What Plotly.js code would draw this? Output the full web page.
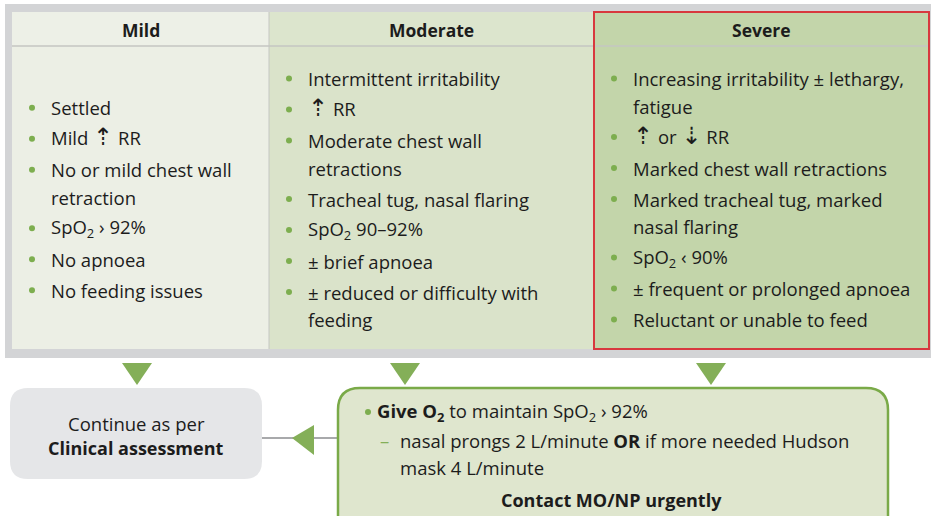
<!DOCTYPE html>
<html><head><meta charset="utf-8">
<script src="https://cdn.plot.ly/plotly-3.0.1.min.js"></script>
<style>html,body{margin:0;padding:0;background:#fff;overflow:hidden}</style>
</head><body>
<div id="chart" style="width:931px;height:516px"></div>
<script>
// ---- data ----
const categories = ["Mild", "Moderate", "Severe"];
const UP = "<span style=\"font-family:'DejaVu Sans';font-size:24px;font-weight:normal\">⇡</span>";
const DOWN = "<span style=\"font-family:'DejaVu Sans';font-size:24px;font-weight:normal\">⇣</span>";
const mildItems = [
  ["Settled"],
  ["Mild " + UP + " RR"],
  ["No or mild chest wall", "retraction"],
  ["SpO<sub>2</sub> › 92%"],
  ["No apnoea"],
  ["No feeding issues"]
];
const moderateItems = [
  ["Intermittent irritability"],
  [UP + " RR"],
  ["Moderate chest wall", "retractions"],
  ["Tracheal tug, nasal flaring"],
  ["SpO<sub>2</sub> 90–92%"],
  ["± brief apnoea"],
  ["± reduced or difficulty with", "feeding"]
];
const severeItems = [
  ["Increasing irritability ± lethargy,", "fatigue"],
  [UP + " or " + DOWN + " RR"],
  ["Marked chest wall retractions"],
  ["Marked tracheal tug, marked", "nasal flaring"],
  ["SpO<sub>2</sub> ‹ 90%"],
  ["± frequent or prolonged apnoea"],
  ["Reluctant or unable to feed"]
];
const continueLines = ["Continue as per", "<b>Clinical assessment</b>"];
const actionBullet = "<b>Give O<sub>2</sub></b> to maintain SpO<sub>2</sub> › 92%";
const actionSubLines = ["nasal prongs 2 L/minute <b>OR</b> if more needed Hudson", "mask 4 L/minute"];
const actionFooter = "Contact MO/NP urgently";

// ---- layout constants ----
const W = 931, H = 516;
const colEdges = [12, 269, 594, 929];
const tableTop = 12, headerBottom = 46, tableBottom = 349;
const colFills = ["#ECEFE5", "#DAE3CA", "#C3D5AA"];
const headFills = ["#EDF0E7", "#DCE5CD", "#C3D5AA"];
const textColor = "#1C1C1C";
const green = "#84AF58";
const font = "'Open Sans', Lato, sans-serif";
const fs = 18.5;
const itemStep = 31, wrapStep = 27.5, contentCenter = 199;

function rrect(x0, y0, x1, y1, r) {
  return `M${x0 + r},${y0} L${x1 - r},${y0} Q${x1},${y0} ${x1},${y0 + r} L${x1},${y1 - r} Q${x1},${y1} ${x1 - r},${y1} L${x0 + r},${y1} Q${x0},${y1} ${x0},${y1 - r} L${x0},${y0 + r} Q${x0},${y0} ${x0 + r},${y0} Z`;
}

const shapes = [];
const annotations = [];
const dotX = [], dotY = [];

// outer grey frame
shapes.push({type: "rect", x0: 5, x1: 940, y0: 4, y1: 358, fillcolor: "#D3D4D6", line: {width: 0}, layer: "below"});
// columns
for (let i = 0; i < 3; i++) {
  shapes.push({type: "rect", x0: colEdges[i], x1: colEdges[i + 1], y0: headerBottom, y1: tableBottom, fillcolor: colFills[i], line: {width: 0}, layer: "below"});
  shapes.push({type: "rect", x0: colEdges[i], x1: colEdges[i + 1], y0: tableTop, y1: headerBottom, fillcolor: headFills[i], line: {width: 0}, layer: "below"});
}
// header separator & column dividers
shapes.push({type: "line", x0: colEdges[0], x1: colEdges[3], y0: headerBottom, y1: headerBottom, line: {color: "#C4C6C2", width: 1.5}, layer: "below"});
shapes.push({type: "line", x0: colEdges[1], x1: colEdges[1], y0: tableTop, y1: tableBottom, line: {color: "#C4C6C2", width: 1}, layer: "below"});
// severe red outline
shapes.push({type: "rect", x0: colEdges[2], x1: colEdges[3], y0: tableTop, y1: tableBottom, line: {color: "#D8383E", width: 2}});

// headers
categories.forEach((c, i) => {
  annotations.push({x: (colEdges[i] + colEdges[i + 1]) / 2, y: 30, text: "<b>" + c + "</b>", showarrow: false,
    xanchor: "center", yanchor: "middle", font: {family: font, size: 17.5, color: textColor}});
});

// items
[mildItems, moderateItems, severeItems].forEach((items, ci) => {
  let total = 0;
  items.forEach((it, k) => { if (k > 0) total += itemStep; total += (it.length - 1) * wrapStep; });
  let y = contentCenter - total / 2;
  items.forEach((it, k) => {
    if (k > 0) y += itemStep;
    dotX.push(colEdges[ci] + 20); dotY.push(y);
    it.forEach((line, li) => {
      if (li > 0) y += wrapStep;
      annotations.push({x: colEdges[ci] + 37, y: y, text: line, showarrow: false, xanchor: "left", yanchor: "middle",
        yshift: line.indexOf("⇡") >= 0 ? 1.5 : 0,
        font: {family: font, size: fs, color: textColor}});
    });
  });
});

// down arrows
[137, 405, 711].forEach(cx => {
  shapes.push({type: "path", path: `M${cx - 15},363 L${cx + 15},363 L${cx},385 Z`, fillcolor: green, line: {width: 0}});
});

// grey box
shapes.push({type: "path", path: rrect(10, 388, 262, 479, 18), fillcolor: "#E5E6E8", line: {width: 0}, layer: "below"});
annotations.push({x: 136, y: 423, text: continueLines[0], showarrow: false, xanchor: "center", yanchor: "middle", font: {family: font, size: fs, color: textColor}});
annotations.push({x: 136, y: 448, text: continueLines[1], showarrow: false, xanchor: "center", yanchor: "middle", font: {family: font, size: 18, color: textColor}});

// connector + left arrow
shapes.push({type: "line", x0: 262, x1: 338, y0: 438, y1: 438, line: {color: "#A8A9AB", width: 2}, layer: "below"});
shapes.push({type: "path", path: "M292,438 L314,425 L314,455 Z", fillcolor: green, line: {width: 0}});

// green action box
shapes.push({type: "path", path: rrect(338, 388, 888, 540, 22), fillcolor: "#DFE6CE", line: {color: "#7AAA48", width: 2.5}, layer: "below"});
dotX.push(368); dotY.push(412);
annotations.push({x: 375, y: 412, text: actionBullet, showarrow: false, xanchor: "left", yanchor: "middle", font: {family: font, size: fs, color: textColor}});
annotations.push({x: 378, y: 440, text: "–", showarrow: false, xanchor: "left", yanchor: "middle", font: {family: font, size: fs, color: green}});
actionSubLines.forEach((l, i) => {
  annotations.push({x: 398, y: 440 + i * 27, text: l, showarrow: false, xanchor: "left", yanchor: "middle", font: {family: font, size: fs, color: textColor}});
});
annotations.push({x: 611, y: 500, text: "<b>" + actionFooter + "</b>", showarrow: false, xanchor: "center", yanchor: "middle", font: {family: font, size: 18, color: textColor}});

const traces = [{
  x: dotX, y: dotY, type: "scatter", mode: "markers", hoverinfo: "skip",
  marker: {size: 6, color: "#7DAE4F"}
}];

const layout = {
  width: W, height: H, margin: {l: 0, r: 0, t: 0, b: 0},
  paper_bgcolor: "#FFFFFF", plot_bgcolor: "#FFFFFF", showlegend: false,
  xaxis: {range: [0, W], visible: false, fixedrange: true},
  yaxis: {range: [H, 0], visible: false, fixedrange: true},
  shapes: shapes, annotations: annotations
};
Plotly.newPlot("chart", traces, layout, {staticPlot: true, displayModeBar: false});
</script>
</body></html>
